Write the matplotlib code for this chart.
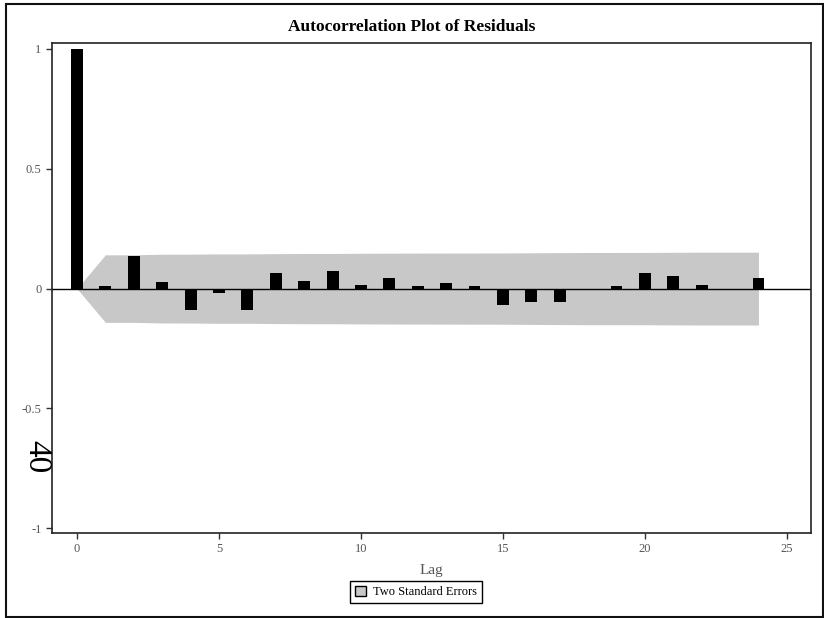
import matplotlib
matplotlib.use("Agg")
import matplotlib.pyplot as plt
from matplotlib.patches import Patch, Rectangle
import numpy as np

plt.rcParams['font.family'] = ['Liberation Serif', 'DejaVu Serif']

# autocorrelations, lag 0..24
lags = list(range(25))
acf = [1.0, 0.011, 0.134, 0.028, -0.089, -0.020, -0.089, 0.064, 0.032, 0.074,
       0.017, 0.043, 0.011, 0.022, 0.011, -0.068, -0.057, -0.057, -0.007, 0.011,
       0.064, 0.053, 0.017, 0.0, 0.043]
# two standard errors band
two_se = [0.0, 0.141, 0.141, 0.1435, 0.1437, 0.1448, 0.1448, 0.1459, 0.1465, 0.1466,
          0.1474, 0.1478, 0.1482, 0.1483, 0.1485, 0.1486, 0.1495, 0.1501, 0.1507, 0.1507,
          0.1508, 0.1515, 0.1520, 0.1521, 0.1521]
yticks = [-1, -0.5, 0, 0.5, 1]
ytick_labels = ['-1', '-0.5', '0', '0.5', '1']
xticks = [0, 5, 10, 15, 20, 25]

fig = plt.figure(figsize=(8.24, 6.18), dpi=100)
ax = fig.add_axes([52/824, 1 - 533/618, (811 - 52)/824, (533 - 43)/618])

se = np.array(two_se)
ax.fill_between(lags, -se, se, color='#c8c8c8', lw=0, zorder=1)
ax.bar(lags, acf, width=0.42, color='black', zorder=3)
ax.axhline(0, color='black', lw=1, zorder=2)

ax.set_xlim(-0.88, 25.85)
ax.set_ylim(-1.02, 1.025)
ax.set_xticks(xticks)
ax.set_yticks(yticks)
ax.set_yticklabels(ytick_labels)
ax.tick_params(direction='out', length=4, width=1, labelsize=9, colors='#333333',
               labelcolor='#555555')
for s in ax.spines.values():
    s.set_linewidth(1.2)
    s.set_color('#222222')

ax.set_xlabel('Lag', fontsize=11, color='#555555', labelpad=6)
fig.text(0.5, 1 - 27/618, 'Autocorrelation Plot of Residuals', ha='center', va='center',
         fontsize=12.5, fontweight='bold')

handle = Patch(facecolor='#c8c8c8', edgecolor='black', lw=1)
leg = fig.legend([handle], ['Two Standard Errors'], loc='center',
                 bbox_to_anchor=(416/824, 1 - 592/618), fontsize=9,
                 fancybox=False, edgecolor='black', framealpha=1,
                 handlelength=0.9, handleheight=0.9, handletextpad=0.6,
                 borderpad=0.4)
leg.get_frame().set_linewidth(1)

fig.text(37/824, 1 - 457/618, '40', rotation=-90, ha='center', va='center', fontsize=24)

fig.patches.append(Rectangle((6/824, 1/618), (823 - 6)/824, (614 - 1)/618,
                             transform=fig.transFigure, fill=False,
                             edgecolor='#111111', lw=1.5))

fig.savefig('out.png', dpi=100)
